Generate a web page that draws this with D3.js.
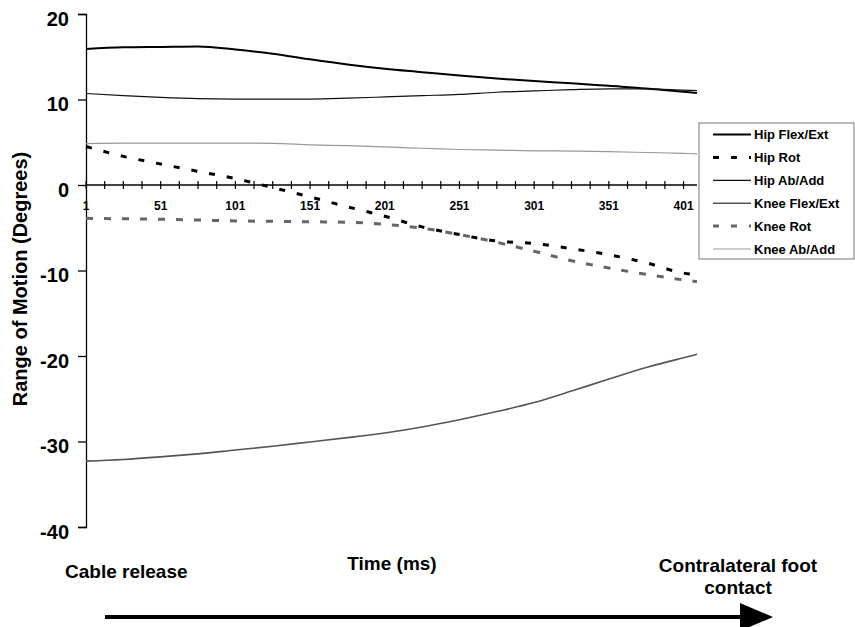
<!DOCTYPE html>
<html>
<head>
<meta charset="utf-8">
<script src="https://cdn.jsdelivr.net/npm/d3@7"></script>
<style>
  body { margin: 0; background: #fff; }
  text { font-family: "Liberation Sans", Arial, sans-serif; font-weight: bold; fill: #000; }
</style>
</head>
<body>
<div id="chart"></div>
<script>
var width = 855;
var height = 627;

// time (ms) sample points
var times = [1, 26, 51, 76, 101, 126, 151, 176, 201, 226, 251, 276, 301, 326, 351, 376, 401, 410];

var hipFlex = [15.9, 16.1, 16.15, 16.2, 15.85, 15.35, 14.7, 14.1, 13.6, 13.2, 12.8, 12.45, 12.15, 11.9, 11.6, 11.3, 10.9, 10.75];
var hipRot = [4.5, 3.35, 2.45, 1.6, 0.75, -0.3, -1.4, -2.55, -3.65, -4.9, -5.8, -6.55, -6.85, -7.45, -8.15, -9.1, -10.3, -10.5];
var hipAbAdd = [10.7, 10.45, 10.25, 10.1, 10.05, 10.05, 10.05, 10.15, 10.3, 10.45, 10.6, 10.85, 11.0, 11.15, 11.25, 11.25, 11.1, 11.05];
var kneeFlex = [-32.3, -32.1, -31.8, -31.45, -31.0, -30.55, -30.05, -29.55, -29.0, -28.3, -27.45, -26.5, -25.45, -24.1, -22.7, -21.35, -20.2, -19.8];
var kneeRot = [-3.9, -3.95, -4.0, -4.1, -4.2, -4.25, -4.3, -4.35, -4.6, -5.05, -5.8, -6.7, -7.75, -8.85, -9.7, -10.45, -11.1, -11.3];
var kneeAbAdd = [4.85, 4.9, 4.9, 4.9, 4.9, 4.88, 4.7, 4.6, 4.45, 4.3, 4.15, 4.08, 4.0, 3.97, 3.9, 3.8, 3.7, 3.65];

var seriesNames = ["Hip Flex/Ext", "Hip Rot", "Hip Ab/Add", "Knee Flex/Ext", "Knee Rot", "Knee Ab/Add"];
var seriesValues = [hipFlex, hipRot, hipAbAdd, kneeFlex, kneeRot, kneeAbAdd];

var yTicks = [20, 10, 0, -10, -20, -30, -40];
var xLabels = [1, 51, 101, 151, 201, 251, 301, 351, 401];

var styles = [
  { color: "#000", w: 2, dash: null },
  { color: "#000", w: 3, dash: "6,12" },
  { color: "#111", w: 1.2, dash: null },
  { color: "#555", w: 1.6, dash: null },
  { color: "#666", w: 3, dash: "7,11" },
  { color: "#999", w: 1.2, dash: null }
];

var svg = d3.select("#chart").append("svg")
  .attr("width", width)
  .attr("height", height);

var xScale = d3.scaleLinear().domain([1, 410]).range([86, 697]);
var yScale = d3.scaleLinear().domain([-40, 20]).range([527, 14]);

// y axis
var yAxis = d3.axisLeft(yScale).tickValues(yTicks).tickSize(8).tickPadding(9)
  .tickFormat(function(d) { return String(d); });
var yG = svg.append("g").attr("transform", "translate(86,0)").call(yAxis);
yG.select(".domain").attr("stroke", "#000").attr("stroke-width", 1.3);
yG.selectAll(".tick line").attr("stroke", "#000").attr("stroke-width", 1.3);
yG.selectAll(".tick text").attr("font-size", 20).attr("font-family", null).attr("fill", "#000").attr("dy", "0.55em");

// x axis across zero, cross tick marks
var minorTicks = d3.range(1, 402, 12.5);
var xG = svg.append("g").attr("transform", "translate(0," + yScale(0) + ")");
xG.append("line")
  .attr("x1", xScale(1)).attr("x2", xScale(410))
  .attr("stroke", "#000").attr("stroke-width", 1.3);
xG.selectAll(".mt").data(minorTicks).enter().append("line")
  .attr("x1", function(d) { return xScale(d); })
  .attr("x2", function(d) { return xScale(d); })
  .attr("y1", -4).attr("y2", 4)
  .attr("stroke", "#000").attr("stroke-width", 1.2);
xG.selectAll(".xl").data(xLabels).enter().append("text")
  .attr("x", function(d) { return xScale(d); })
  .attr("y", 25)
  .attr("text-anchor", "middle")
  .attr("font-size", 12)
  .text(function(d) { return d; });

// lines
var line = d3.line()
  .curve(d3.curveMonotoneX)
  .x(function(d) { return xScale(d[0]); })
  .y(function(d) { return yScale(d[1]); });

seriesValues.forEach(function(vals, i) {
  var pts = times.map(function(t, j) { return [t, vals[j]]; });
  svg.append("path")
    .datum(pts)
    .attr("d", line)
    .attr("fill", "none")
    .attr("stroke", styles[i].color)
    .attr("stroke-width", styles[i].w)
    .attr("stroke-dasharray", styles[i].dash);
});

// legend
var legend = svg.append("g").attr("transform", "translate(699,123)");
legend.append("rect")
  .attr("width", 155).attr("height", 136)
  .attr("fill", "#fff").attr("stroke", "#777").attr("stroke-width", 1);
seriesNames.forEach(function(name, i) {
  var ly = 11.5 + i * 22.9;
  legend.append("line")
    .attr("x1", 14).attr("x2", 52)
    .attr("y1", ly).attr("y2", ly)
    .attr("stroke", styles[i].color)
    .attr("stroke-width", styles[i].dash ? 3 : styles[i].w)
    .attr("stroke-dasharray", styles[i].dash ? "6,12" : null);
  legend.append("text")
    .attr("x", 55).attr("y", ly + 4.5)
    .attr("font-size", 13)
    .text(name);
});

// titles
svg.append("text")
  .attr("transform", "translate(27,279)rotate(-90)")
  .attr("text-anchor", "middle")
  .attr("font-size", 20)
  .text("Range of Motion (Degrees)");

svg.append("text")
  .attr("x", 392).attr("y", 570)
  .attr("text-anchor", "middle")
  .attr("font-size", 19)
  .text("Time (ms)");

svg.append("text")
  .attr("x", 65).attr("y", 578)
  .attr("font-size", 19)
  .text("Cable release");

var cf = svg.append("text")
  .attr("text-anchor", "middle")
  .attr("font-size", 19);
cf.append("tspan").attr("x", 738).attr("y", 572).text("Contralateral foot");
cf.append("tspan").attr("x", 738).attr("y", 594).text("contact");

// arrow
svg.append("line")
  .attr("x1", 105).attr("x2", 742)
  .attr("y1", 617).attr("y2", 617)
  .attr("stroke", "#000").attr("stroke-width", 4);
svg.append("path")
  .attr("d", "M740,603L773,617L740,631Z")
  .attr("fill", "#000");
</script>
</body>
</html>
